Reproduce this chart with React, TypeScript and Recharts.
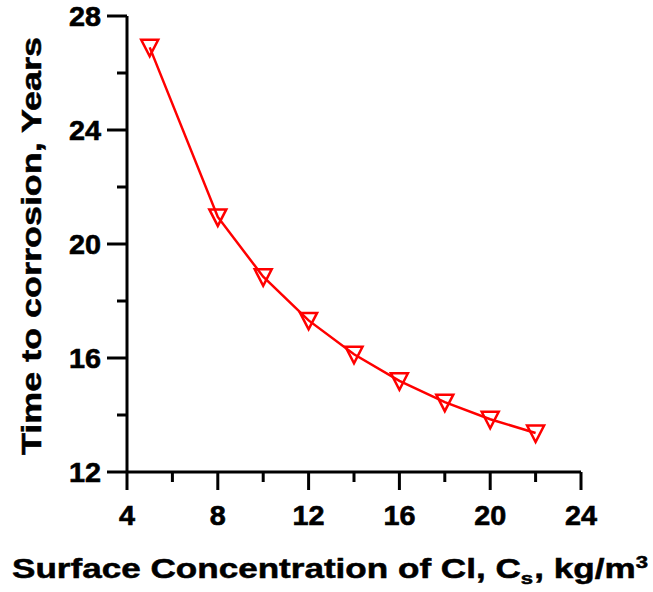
import React from 'react';
import { LineChart, Line, XAxis, YAxis, Label } from 'recharts';

const concentration = [5, 8, 10, 12, 14, 16, 18, 20, 22];
const timeToCorrosion = [26.9, 20.95, 18.85, 17.32, 16.13, 15.2, 14.45, 13.85, 13.37];
const xMajorTicks = [4, 8, 12, 16, 20, 24];
const xMinorTicks = [6, 10, 14, 18, 22];
const yMajorTicks = [12, 16, 20, 24, 28];
const yMinorTicks = [14, 18, 22, 26];

const data = concentration.map((c, i) => ({ c, t: timeToCorrosion[i] }));
const xTicks = [...xMajorTicks, ...xMinorTicks].sort((a, b) => a - b);
const yTicks = [...yMajorTicks, ...yMinorTicks].sort((a, b) => a - b);

const FONT = '"Liberation Sans", Arial, sans-serif';
const SW = 3;
const textStyle = (size: number, sw = 0.6): React.CSSProperties => ({
  fontFamily: FONT,
  fontWeight: 700,
  fontSize: size,
  fill: '#000',
  stroke: '#000',
  strokeWidth: sw,
});

const makeTick = (side: string, majors: number[]) => (props: any) => {
  const { x, y, payload } = props;
  const major = majors.includes(payload.value);
  const label = String(payload.value);
  if (side === 'bottom') {
    const len = major ? 18 : 10;
    return (
      <g>
        <line x1={x} y1={y} x2={x} y2={y + len} stroke="#000" strokeWidth={SW} />
        {major && (
          <text
            x={x}
            y={y + 53}
            textAnchor="middle"
            textLength={16 * label.length}
            lengthAdjust="spacingAndGlyphs"
            style={textStyle(27)}
          >
            {label}
          </text>
        )}
      </g>
    );
  }
  if (side === 'left') {
    const len = major ? 20 : 10;
    return (
      <g>
        <line x1={x} y1={y} x2={x - len} y2={y} stroke="#000" strokeWidth={SW} />
        {major && (
          <text
            x={x - 26 - 16 * label.length}
            y={y + 10}
            textAnchor="start"
            textLength={16 * label.length}
            lengthAdjust="spacingAndGlyphs"
            style={textStyle(27)}
          >
            {label}
          </text>
        )}
      </g>
    );
  }
  if (side === 'top') {
    const len = major ? 11 : 6;
    return <line x1={x} y1={y} x2={x} y2={y + len} stroke="#000" strokeWidth={SW} />;
  }
  const len = major ? 9 : 5;
  return <line x1={x} y1={y} x2={x - len} y2={y} stroke="#000" strokeWidth={SW} />;
};

const TriangleDot = (props: any) => {
  const { cx, cy } = props;
  if (cx == null || cy == null) return null;
  const pts = `${cx - 8.5},${cy - 7.5} ${cx + 8.5},${cy - 7.5} ${cx},${cy + 9}`;
  return <polygon points={pts} fill="none" stroke="#ff0000" strokeWidth={2.5} />;
};

const XS = 1.3;
const XLabel = () => (
  <text
    x={0}
    y={0}
    transform={`translate(12,578) scale(${XS},1)`}
    textAnchor="start"
    style={textStyle(27, 0.5)}
  >
    Surface Concentration of Cl, C
    <tspan style={{ fontSize: 17 }} dy={6}>s</tspan>
    <tspan dy={-6} dx={1}>, kg/m</tspan>
    <tspan style={{ fontSize: 17 }} dy={-10}>3</tspan>
  </text>
);

const YS = 1.32;
const YLabel = () => (
  <text
    x={0}
    y={0}
    transform={`translate(41,455) rotate(-90) scale(${YS},1)`}
    textAnchor="start"
    textLength={418 / YS}
    lengthAdjust="spacingAndGlyphs"
    style={textStyle(27, 0.5)}
  >
    Time to corrosion, Years
  </text>
);

export default function App() {
  return (
    <div style={{ position: 'absolute', left: 0, top: 0, background: '#fff' }}>
      <LineChart width={653} height={592} data={data} margin={{ top: 16, right: 72, bottom: 0, left: 0 }}>
        <XAxis
          xAxisId="b"
          dataKey="c"
          type="number"
          domain={[4, 24]}
          ticks={xTicks}
          interval={0}
          height={120}
          tickSize={0}
          tickMargin={0}
          tickLine={false}
          axisLine={{ stroke: '#000', strokeWidth: SW }}
          tick={makeTick('bottom', xMajorTicks)}
        >
          <Label content={<XLabel />} />
        </XAxis>
        <XAxis
          xAxisId="t"
          orientation="top"
          type="number"
          domain={[4, 24]}
          ticks={xTicks}
          interval={0}
          height={0}
          tickSize={0}
          tickMargin={0}
          tickLine={false}
          axisLine={{ stroke: '#000', strokeWidth: SW }}
          tick={makeTick('top', xMajorTicks)}
        />
        <YAxis
          yAxisId="l"
          type="number"
          domain={[12, 28]}
          ticks={yTicks}
          interval={0}
          width={127}
          tickSize={0}
          tickMargin={0}
          tickLine={false}
          axisLine={{ stroke: '#000', strokeWidth: SW }}
          tick={makeTick('left', yMajorTicks)}
        >
          <Label content={<YLabel />} />
        </YAxis>
        <YAxis
          yAxisId="r"
          orientation="right"
          type="number"
          domain={[12, 28]}
          ticks={yTicks}
          interval={0}
          width={0}
          tickSize={0}
          tickMargin={0}
          tickLine={false}
          axisLine={{ stroke: '#000', strokeWidth: SW }}
          tick={makeTick('right', yMajorTicks)}
        />
        <Line
          xAxisId="b"
          yAxisId="l"
          type="linear"
          dataKey="t"
          stroke="#ff0000"
          strokeWidth={2.5}
          dot={<TriangleDot />}
          activeDot={false}
          isAnimationActive={false}
        />
      </LineChart>
    </div>
  );
}
